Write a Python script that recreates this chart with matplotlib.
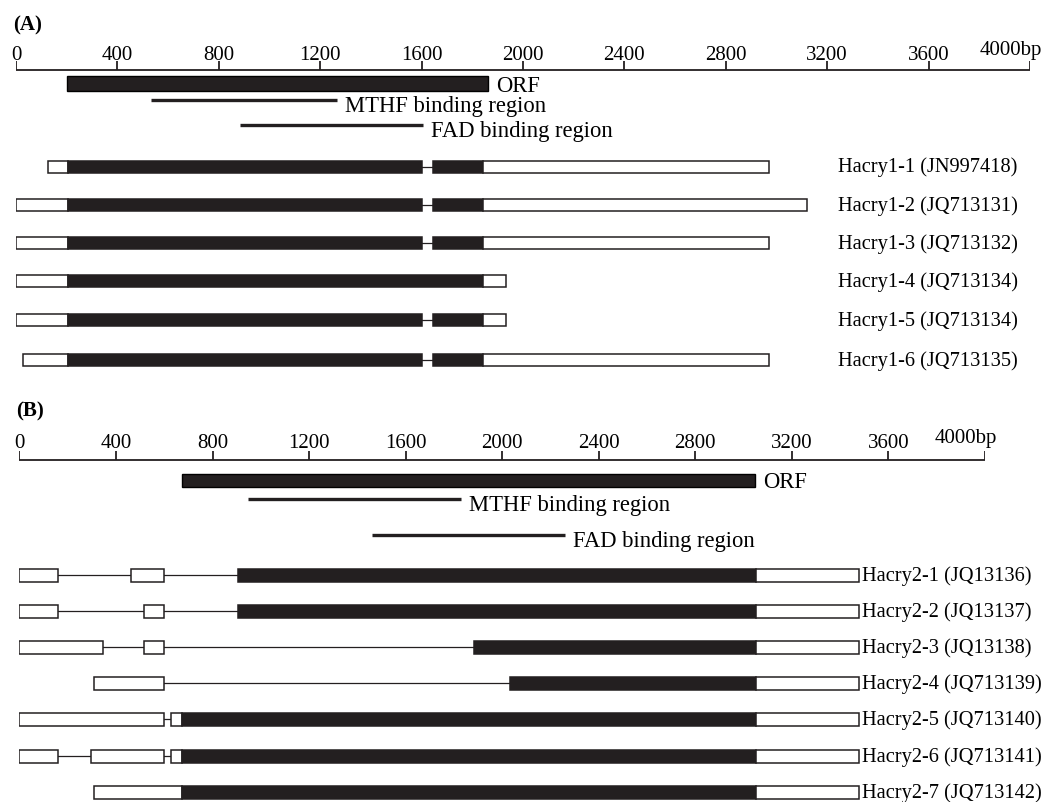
import matplotlib
matplotlib.use("Agg")
import matplotlib.pyplot as plt

plt.rcParams['font.family'] = ['Liberation Serif', 'DejaVu Serif']

# ---------------- data (bp) ----------------
ruler_ticks = [0, 400, 800, 1200, 1600, 2000, 2400, 2800, 3200, 3600, 4000]
ruler_labels = ["0", "400", "800", "1200", "1600", "2000", "2400", "2800", "3200", "3600", "4000bp"]

A_orf = (202, 1862)
A_mthf = (532, 1268)
A_fad = (882, 1605)
A_names = ["Hacry1-1 (JN997418)", "Hacry1-2 (JQ713131)", "Hacry1-3 (JQ713132)",
           "Hacry1-4 (JQ713134)", "Hacry1-5 (JQ713134)", "Hacry1-6 (JQ713135)"]
A_tx1 = [(125, 205, 'utr'), (205, 1602, 'cds'), (1645, 1842, 'cds'), (1842, 2972, 'utr')]
A_tx2 = [(0, 205, 'utr'), (205, 1602, 'cds'), (1645, 1842, 'cds'), (1842, 3121, 'utr')]
A_tx3 = [(0, 205, 'utr'), (205, 1602, 'cds'), (1645, 1842, 'cds'), (1842, 2972, 'utr')]
A_tx4 = [(0, 205, 'utr'), (205, 1844, 'cds'), (1844, 1934, 'utr')]
A_tx5 = [(0, 205, 'utr'), (205, 1602, 'cds'), (1645, 1842, 'cds'), (1842, 1934, 'utr')]
A_tx6 = [(26, 205, 'utr'), (205, 1602, 'cds'), (1645, 1842, 'cds'), (1842, 2972, 'utr')]
A_tx = [A_tx1, A_tx2, A_tx3, A_tx4, A_tx5, A_tx6]

B_orf = (675, 3048)
B_mthf = (949, 1831)
B_fad = (1460, 2262)
B_names = ["Hacry2-1 (JQ13136)", "Hacry2-2 (JQ13137)", "Hacry2-3 (JQ13138)",
           "Hacry2-4 (JQ713139)", "Hacry2-5 (JQ713140)", "Hacry2-6 (JQ713141)",
           "Hacry2-7 (JQ713142)"]
B_tx1 = [(0, 158, 'utr'), (462, 600, 'utr'), (906, 3050, 'cds'), (3050, 3477, 'utr')]
B_tx2 = [(0, 158, 'utr'), (516, 600, 'utr'), (906, 3050, 'cds'), (3050, 3477, 'utr')]
B_tx3 = [(0, 345, 'utr'), (516, 600, 'utr'), (1884, 3050, 'cds'), (3050, 3477, 'utr')]
B_tx4 = [(309, 600, 'utr'), (2034, 3050, 'cds'), (3050, 3477, 'utr')]
B_tx5 = [(0, 600, 'utr'), (627, 675, 'utr'), (675, 3050, 'cds'), (3050, 3477, 'utr')]
B_tx6 = [(0, 158, 'utr'), (298, 600, 'utr'), (627, 675, 'utr'), (675, 3050, 'cds'), (3050, 3477, 'utr')]
B_tx7 = [(309, 675, 'utr'), (675, 3050, 'cds'), (3050, 3477, 'utr')]
B_tx = [B_tx1, B_tx2, B_tx3, B_tx4, B_tx5, B_tx6, B_tx7]

# ---------------- layout ----------------
W, H = 1060, 803
DARK = '#231f20'
fig = plt.figure(figsize=(W / 100, H / 100), dpi=100)
fig.patch.set_facecolor('white')


def panel_axes(px0, px4000):
    ax = fig.add_axes([px0 / W, 0, (px4000 - px0) / W, 1])
    ax.set_xlim(0, 4000)
    ax.set_ylim(H, 0)
    ax.axis('off')
    ax.patch.set_alpha(0)
    return ax


def draw_panel(ax, bp_per_px, letter, letter_base, tick_base, axis_y,
               orf, orf_y, orf_h, mthf, mthf_y, fad, fad_y,
               txs, names, row_y, row_h, name_x):
    ax.text(-13, letter_base, letter, fontsize=15, fontweight='bold', ha='left', va='baseline')
    # ruler
    ax.plot([0, 4000], [axis_y, axis_y], color=DARK, lw=1.3, solid_capstyle='butt')
    for t, lab in zip(ruler_ticks, ruler_labels):
        ax.plot([t, t], [axis_y - 9, axis_y], color=DARK, lw=1.3, solid_capstyle='butt')
        if lab.endswith('bp'):
            ax.text(t + 12 * bp_per_px, tick_base - 5, lab, fontsize=15, ha='right', va='baseline')
        else:
            ax.text(t, tick_base, lab, fontsize=15, ha='center', va='baseline')
    gap = 8 * bp_per_px
    # ORF
    ax.barh(orf_y, orf[1] - orf[0], left=orf[0], height=orf_h, color=DARK,
            edgecolor='black', lw=1.0)
    ax.text(orf[1] + gap, orf_y + 7.5, "ORF", fontsize=16.3, ha='left', va='baseline')
    # binding regions
    ax.plot(list(mthf), [mthf_y, mthf_y], color=DARK, lw=2.4, solid_capstyle='butt')
    ax.text(mthf[1] + gap, mthf_y + 11, "MTHF binding region", fontsize=16.3, ha='left', va='baseline')
    ax.plot(list(fad), [fad_y, fad_y], color=DARK, lw=2.4, solid_capstyle='butt')
    ax.text(fad[1] + gap, fad_y + 11, "FAD binding region", fontsize=16.3, ha='left', va='baseline')
    # transcripts
    for segs, name, y in zip(txs, names, row_y):
        for (s0, e0, _), (s1, e1, _) in zip(segs[:-1], segs[1:]):
            if s1 > e0:
                ax.plot([e0, s1], [y, y], color=DARK, lw=0.9, zorder=1)
        for s, e, kind in segs:
            ax.barh(y, e - s, left=s, height=row_h,
                    color=(DARK if kind == 'cds' else 'white'),
                    edgecolor=DARK, lw=1.1, zorder=2)
        ax.text(name_x, y, name, fontsize=14.7, ha='left', va='center')


# Panel A: 0 bp at x=16 px, 4000 bp at x=1030 px
axA = panel_axes(16, 1030)
bppA = 4000 / (1030 - 16)
draw_panel(axA, bppA, "(A)", 30, 60, 71,
           A_orf, 84.5, 15, A_mthf, 101, A_fad, 126,
           A_tx, A_names, [167.5, 206, 244, 282, 321, 361], 12,
           (838 - 16) * bppA)

# Panel B: 0 bp at x=19.4 px, 4000 bp at x=985 px
axB = panel_axes(19.4, 985)
bppB = 4000 / (985 - 19.4)
draw_panel(axB, bppB, "(B)", 416, 448, 461,
           B_orf, 481, 13, B_mthf, 500, B_fad, 536,
           B_tx, B_names, [576, 612, 648, 684, 720, 757, 793], 13,
           (862 - 19.4) * bppB)

fig.savefig("out.png", dpi=100, facecolor='white')
